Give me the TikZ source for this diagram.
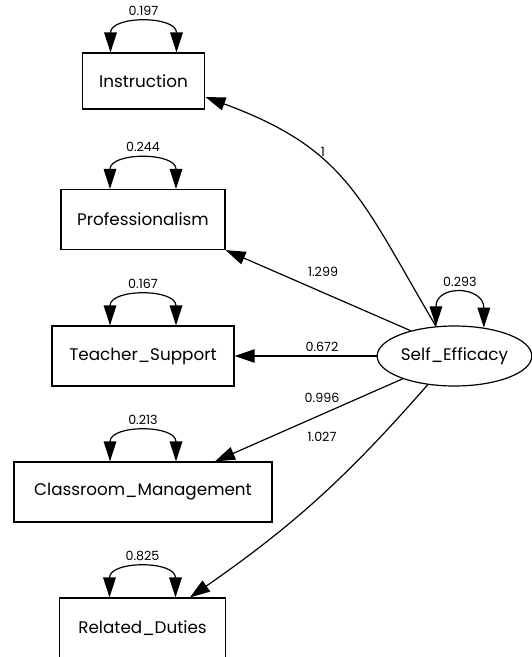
\documentclass[tikz,border=0pt]{standalone}
\usepackage{fontspec}
\setmainfont{Poppins}
\usetikzlibrary{positioning, arrows.meta, shapes.geometric}

\begin{document}
\begin{tikzpicture}[
    x=0.75pt, y=-0.75pt,
    % Node styles
    observed/.style={
        rectangle,
        draw=black,
        line width=0.9pt,
        minimum height=45pt,
        inner sep=0pt,
        font=\fontsize{12.6}{14}\selectfont
    },
    latent/.style={
        ellipse,
        draw=black,
        line width=0.9pt,
        minimum width=116pt,
        minimum height=45pt,
        inner sep=0pt,
        font=\fontsize{12.6}{14}\selectfont
    },
    loading/.style={
        -{Triangle[length=15pt, width=10pt]},
        line width=0.9pt
    },
    varloop/.style={
        {Triangle[length=15pt, width=9.5pt]}-{Triangle[length=15pt, width=9.5pt]},
        line width=0.9pt
    },
    estimate/.style={
        font=\fontsize{9.5}{11}\selectfont,
        inner sep=1pt
    }
]

\useasboundingbox (0,0) rectangle (532,657);

% Indicators
\node[observed, minimum width=92pt, minimum height=42pt] (ins) at (143.5,81) {Instruction};
\node[observed, minimum width=123pt] (pro) at (143,219.5) {Professionalism};
\node[observed, minimum width=136.5pt] (tea) at (143,356) {Teacher\_Support};
\node[observed, minimum width=193.5pt] (cla) at (143,492) {Classroom\_Management};
\node[observed, minimum width=124pt] (rel) at (142.5,628) {Related\_Duties};

% Latent factor
\node[latent] (se) at (454.5,356) {Self\_Efficacy};

% Loadings
\draw[loading] (se.122) .. controls +(-76,-129) and +(141,52) .. ([yshift=-12pt]ins.east);
\draw[loading] (se.150) -- (pro.south east);
\draw[loading] (se) -- (tea);
\draw[loading] (se) -- ([xshift=54pt]cla.north);
\draw[loading] (se.227) to[bend left=7] ([xshift=35.6pt]rel.north);

\node[estimate] (l-ins) at (323,152) {1};
\node[estimate] (l-pro) at (323,272) {1.299};
\node[estimate] (l-tea) at (322,347) {0.672};
\node[estimate] (l-cla) at (322,398) {0.996};
\node[estimate] (l-rel) at (322,437) {1.027};

% Residual variances
\foreach \obs/\var in {ins/0.197, pro/0.244, tea/0.167, cla/0.213, rel/0.825} {
    \draw[varloop] ([xshift=-24.75pt]\obs.north) .. controls +(0,-37) and +(0,-37) ..
        ([xshift=24.75pt]\obs.north) node[estimate, midway, above=5.5pt] (v-\obs) {\var};
}
\draw[varloop] (se.122) .. controls +(0,-42) and +(0,-42) .. (se.44)
    node[estimate, midway, above=5pt] (v-se) {0.293};

\end{tikzpicture}
\end{document}
